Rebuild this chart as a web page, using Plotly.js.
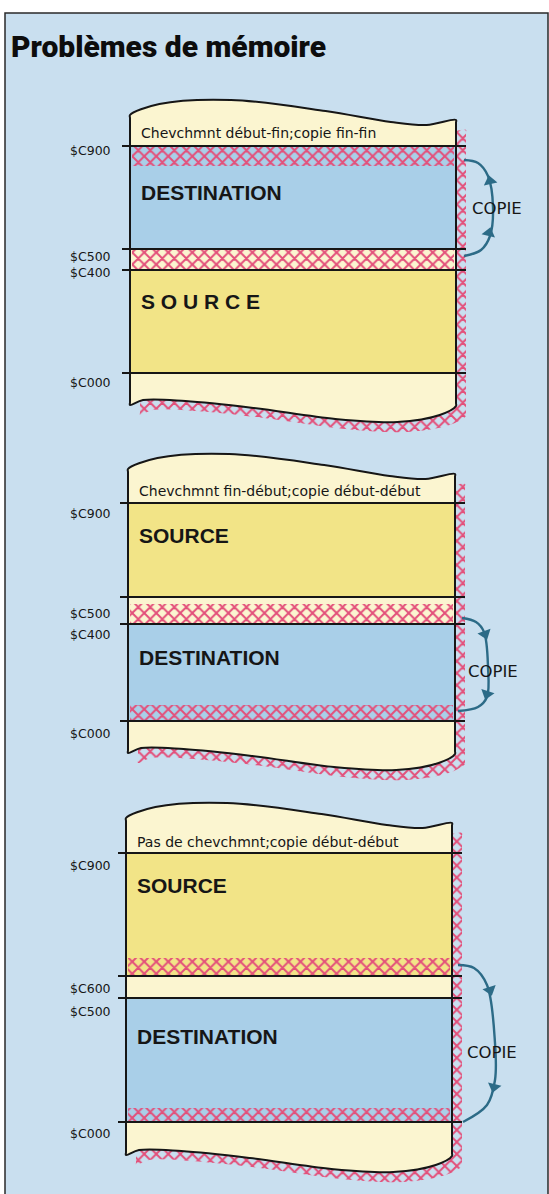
<!DOCTYPE html>
<html><head><meta charset="utf-8">
<script src="https://cdn.plot.ly/plotly-3.0.1.min.js"></script>
<style>html,body{margin:0;padding:0;background:#fff;overflow:hidden}</style>
</head><body><div id="chart" style="width:549px;height:1194px"></div>
<script>
// ---------------- data (text / values) ----------------
const chartTitle = "Problèmes de mémoire";
const captions = [
  "Chevchmnt début-fin;copie fin-fin",
  "Chevchmnt fin-début;copie début-début",
  "Pas de chevchmnt;copie début-début"
];
const addressLabels1 = ["$C900", "$C500", "$C400", "$C000"];
const addressLabels2 = ["$C900", "$C500", "$C400", "$C000"];
const addressLabels3 = ["$C900", "$C600", "$C500", "$C000"];
const blockNames1 = ["DESTINATION", "", "S O U R C E"];
const blockNames2 = ["SOURCE", "", "DESTINATION"];
const blockNames3 = ["SOURCE", "", "DESTINATION"];
const blockKinds1 = ["dest", "free", "src"];
const blockKinds2 = ["src", "free", "dest"];
const blockKinds3 = ["src", "free", "dest"];
const copyLabel = "COPIE";
const copyDirection = ["up", "down", "down"];

// ---------------- geometry (diagram units = pixels) ----------------
const boxLeft = [130, 128, 126];
const boxRight = [456, 455, 452];
const boxTopY = [115, 469, 818];
const boxBottomY = [405, 753, 1155];
const lineY1 = [146, 249, 270, 373];
const lineY2 = [503, 597, 624, 721];
const lineY3 = [853, 976, 998, 1122];
const labelY1 = [150, 256, 272, 382];
const labelY2 = [513, 613, 634, 733];
const labelY3 = [865, 988, 1011, 1133];
const nameY1 = [192, 0, 301];
const nameY2 = [535, 0, 657];
const nameY3 = [885, 0, 1036];
const hatch1 = [[146, 166], [249, 270]];
const hatch2 = [[604, 623], [705, 721]];
const hatch3 = [[958, 976], [1108, 1122]];
const captionY = [133, 491, 842];
const copyX = [497, 493, 492];
const copyY = [208, 671, 1052];
const arcX1 = [464, 478, 488, 493, 490, 481, 464];
const arcY1 = [160, 163, 176, 207, 236, 250, 256];
const arcX2 = [462, 476, 484, 488, 487, 478, 458];
const arcY2 = [618, 622, 632, 667, 697, 707, 711];
const arcX3 = [458, 474, 487, 495, 495, 487, 463];
const arcY3 = [965, 968, 985, 1043, 1080, 1105, 1122];
const headX1 = [490, 489], headY1 = [181, 233], headA1 = [-12, 14];
const headX2 = [485, 487], headY2 = [634, 694], headA2 = [-20, 18];
const headX3 = [490, 494], headY3 = [990, 1087], headA3 = [-18, 14];
const topFx = [0, 0.09, 0.31, 0.6, 0.8, 0.91, 1];
const topDy = [0, -11, -15, -4, 7, 10, 5];
const botFx = [0, 0.04, 0.17, 0.38, 0.63, 0.82, 0.95, 1];
const botDy = [0, -5, -4, 3, 14, 17, 10, 1];

// ---------------- styles ----------------
const BG = "#c9dfef", CREAM = "#fbf5d0", YELLOW = "#f2e487", BLUE = "#a9cfe8";
const PINK = "#e3507a", INK = "#161616", TEAL = "#2c6b87";
const SMALL = "'DejaVu Sans', sans-serif";
const SANS = "'Liberation Sans', Arial, sans-serif";
const kindColor = {dest: BLUE, src: YELLOW, free: CREAM};

const lineYs = [lineY1, lineY2, lineY3];
const labelYs = [labelY1, labelY2, labelY3];
const addrs = [addressLabels1, addressLabels2, addressLabels3];
const names = [blockNames1, blockNames2, blockNames3];
const nameYs = [nameY1, nameY2, nameY3];
const kinds = [blockKinds1, blockKinds2, blockKinds3];
const hatches = [hatch1, hatch2, hatch3];
const arcXs = [arcX1, arcX2, arcX3], arcYs = [arcY1, arcY2, arcY3];
const headXs = [headX1, headX2, headX3], headYs = [headY1, headY2, headY3], headAs = [headA1, headA2, headA3];

function boxPoly(p, dx, dy) {
  const L = boxLeft[p] + dx, R = boxRight[p] + dx, T = boxTopY[p] + dy, B = boxBottomY[p] + dy, W = R - L;
  const xs = [], ys = [];
  topFx.forEach((f, i) => { xs.push(L + f * W); ys.push(T + topDy[i]); });
  const rT = T + topDy[topDy.length - 1], rB = B + botDy[botDy.length - 1];
  xs.push(R, R); ys.push(rT + 3, rB - 3);
  for (let i = botFx.length - 1; i >= 0; i--) { xs.push(L + botFx[i] * W); ys.push(B + botDy[i]); }
  xs.push(L, L, L); ys.push(B - 3, T + 3, T);
  return {x: xs, y: ys};
}
function rect(l, r, t, b) { return {x: [l, r, r, l, l], y: [t, t, b, b, t]}; }
const base = {mode: "lines", hoverinfo: "skip", showlegend: false};
const pattern = {shape: "x", fgcolor: PINK, bgcolor: "rgba(0,0,0,0)", size: 8.5, solidity: 0.42, fillmode: "replace"};

const traces = [];
const annotations = [];
for (let p = 0; p < 3; p++) {
  const L = boxLeft[p], R = boxRight[p];
  const sh = boxPoly(p, 10, 10);
  traces.push(Object.assign({}, base, sh, {fill: "toself", fillcolor: "rgba(0,0,0,0)", fillpattern: pattern,
    line: {width: 0, shape: "spline", color: "rgba(0,0,0,0)"}}));
  const bx = boxPoly(p, 0, 0);
  traces.push(Object.assign({}, base, bx, {fill: "toself", fillcolor: CREAM, line: {width: 0, shape: "spline", color: "rgba(0,0,0,0)"}}));
  const ly = lineYs[p];
  kinds[p].forEach((k, i) => {
    if (k === "free") return;
    traces.push(Object.assign({}, base, rect(L, R, ly[i], ly[i + 1]), {fill: "toself", fillcolor: kindColor[k], line: {width: 0}}));
  });
  hatches[p].forEach(h => {
    traces.push(Object.assign({}, base, rect(L + 2, R - 2, h[0], h[1]), {fill: "toself", fillcolor: "rgba(0,0,0,0)", fillpattern: pattern, line: {width: 0}}));
  });
  const hx = [], hy = [];
  ly.forEach(y => { hx.push(L - 8, R + 10, null); hy.push(y, y, null); });
  traces.push(Object.assign({}, base, {x: hx, y: hy, line: {color: INK, width: 2}}));
  traces.push(Object.assign({}, base, bx, {line: {color: INK, width: 2, shape: "spline"}}));
  traces.push(Object.assign({}, base, {x: arcXs[p], y: arcYs[p], line: {color: TEAL, width: 2.4, shape: "spline"}}));
  traces.push({type: "scatter", mode: "markers", x: headXs[p], y: headYs[p], hoverinfo: "skip", showlegend: false,
    marker: {symbol: copyDirection[p] === "up" ? "triangle-up" : "triangle-down", size: 12, color: TEAL, angle: headAs[p], line: {width: 0}}});

  annotations.push({x: L + 9, y: captionY[p], xref: "x", yref: "y", text: captions[p], showarrow: false,
    xanchor: "left", yanchor: "middle", font: {family: SMALL, size: 14, color: INK}});
  addrs[p].forEach((a, i) => annotations.push({x: 113, y: labelYs[p][i], xref: "x", yref: "y", text: a, showarrow: false,
    xanchor: "right", yanchor: "middle", font: {family: SMALL, size: 12.5, color: INK}}));
  names[p].forEach((n, i) => { if (n) annotations.push({x: L + 9, y: nameYs[p][i], xref: "x", yref: "y", text: "<b>" + n + "</b>", showarrow: false,
    xanchor: "left", yanchor: "middle", font: {family: SANS, size: 21, color: INK}}); });
  annotations.push({x: copyX[p], y: copyY[p], xref: "x", yref: "y", text: copyLabel, showarrow: false,
    xanchor: "center", yanchor: "middle", font: {family: SMALL, size: 16.5, color: INK}});
}
annotations.push({x: 9, y: 46, xref: "x", yref: "y", text: chartTitle, showarrow: false,
  xanchor: "left", yanchor: "middle", font: {family: "Roboto, 'Liberation Sans', sans-serif", weight: 900, size: 30, color: "#0d0d0d"}});

const layout = {
  width: 549, height: 1194, margin: {l: 0, r: 0, t: 0, b: 0},
  paper_bgcolor: "#ffffff", plot_bgcolor: "rgba(0,0,0,0)",
  xaxis: {range: [0, 549], visible: false, fixedrange: true},
  yaxis: {range: [1194, 0], visible: false, fixedrange: true},
  shapes: [{type: "rect", xref: "x", yref: "y", x0: 5, y0: 13, x1: 548, y1: 1200, fillcolor: BG,
    line: {color: "#2a2a2a", width: 1.5}, layer: "below"}],
  annotations: annotations
};
Plotly.newPlot("chart", traces, layout, {staticPlot: true, displayModeBar: false});
</script>
</body></html>
